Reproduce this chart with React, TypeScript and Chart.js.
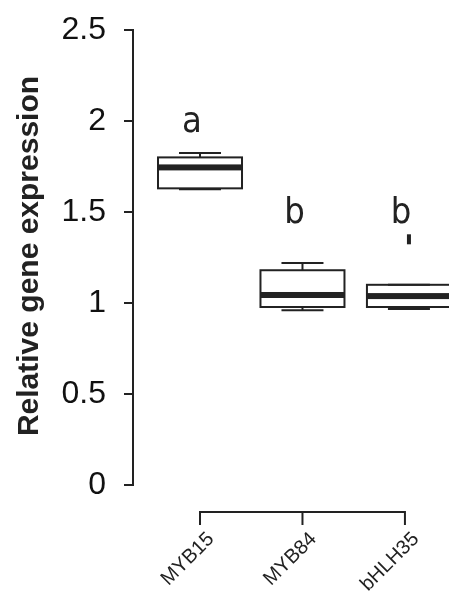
import { useEffect, useRef } from "react";
import { Chart, registerables } from "chart.js";

Chart.register(...registerables);

const genes = ["MYB15", "MYB84", "bHLH35"];
const whiskerLow = [1.625, 0.96, 0.967];
const q1 = [1.63, 0.978, 0.978];
const median = [1.745, 1.044, 1.038];
const q3 = [1.80, 1.18, 1.10];
const whiskerHigh = [1.824, 1.22, 1.10];
const outliers = [[], [], [1.35]] as number[][];
const letters = ["a", "b", "b"];
const letterAt = [1.99, 1.49, 1.49];
const yTicks = [0, 0.5, 1, 1.5, 2, 2.5];

const boxPlugin = {
  id: "boxes",
  afterDatasetsDraw(chart: Chart) {
    const { ctx } = chart;
    const x = chart.scales.x;
    const y = chart.scales.y;
    const halfW = 42;
    const capW = 21;
    ctx.save();
    ctx.strokeStyle = "#222";
    ctx.fillStyle = "#222";
    genes.forEach((g, i) => {
      const cx = x.getPixelForValue(i) + (i === 2 ? 4 : 0);
      const top = y.getPixelForValue(q3[i]);
      const bot = y.getPixelForValue(q1[i]);
      ctx.lineWidth = 2;
      ctx.beginPath();
      ctx.moveTo(cx, y.getPixelForValue(whiskerHigh[i]));
      ctx.lineTo(cx, top);
      ctx.moveTo(cx - capW, y.getPixelForValue(whiskerHigh[i]));
      ctx.lineTo(cx + capW, y.getPixelForValue(whiskerHigh[i]));
      ctx.moveTo(cx, y.getPixelForValue(whiskerLow[i]));
      ctx.lineTo(cx, bot);
      ctx.moveTo(cx - capW, y.getPixelForValue(whiskerLow[i]));
      ctx.lineTo(cx + capW, y.getPixelForValue(whiskerLow[i]));
      ctx.stroke();
      ctx.strokeRect(cx - halfW, top, halfW * 2, bot - top);
      const my = y.getPixelForValue(median[i]);
      ctx.fillRect(cx - halfW, my - 3, halfW * 2, 6);
      outliers[i].forEach((o) => {
        const oy = y.getPixelForValue(o);
        ctx.fillRect(cx - 2, oy - 5, 4, 10);
      });
      ctx.font = "36px 'DejaVu Sans Condensed', sans-serif";
      ctx.textAlign = "center";
      ctx.textBaseline = "middle";
      ctx.fillText(letters[i], cx - 8, y.getPixelForValue(letterAt[i]));
    });
    // category axis
    const ay = 512;
    ctx.lineWidth = 2;
    ctx.beginPath();
    ctx.moveTo(x.getPixelForValue(0), ay);
    ctx.lineTo(x.getPixelForValue(2), ay);
    genes.forEach((_, i) => {
      const tx = x.getPixelForValue(i);
      ctx.moveTo(tx, ay - 1);
      ctx.lineTo(tx, ay + 13);
    });
    ctx.stroke();
    ctx.font = "20px 'Liberation Sans', Arial, sans-serif";
    ctx.textAlign = "right";
    ctx.textBaseline = "middle";
    genes.forEach((g, i) => {
      ctx.save();
      ctx.translate(x.getPixelForValue(i) + 11, 536);
      ctx.rotate(-Math.PI / 4);
      ctx.fillText(g, 0, 0);
      ctx.restore();
    });
    // y title
    ctx.save();
    ctx.translate(30, 256);
    ctx.rotate(-Math.PI / 2);
    ctx.textAlign = "center";
    ctx.textBaseline = "middle";
    ctx.font = "bold 30px 'Liberation Sans', Arial, sans-serif";
    ctx.fillText("Relative gene expression", 0, 0);
    ctx.restore();
    ctx.restore();
  },
};

export default function App() {
  const canvasRef = useRef<HTMLCanvasElement>(null);

  useEffect(() => {
    document.body.style.margin = "0";
    if (!canvasRef.current) return;
    const chart = new Chart(canvasRef.current, {
      type: "scatter",
      data: { datasets: [{ data: [], pointRadius: 0 }] },
      options: {
        animation: false,
        responsive: false,
        layout: { padding: { top: 30, bottom: 121, right: 0, left: 0 } },
        plugins: { legend: { display: false }, tooltip: { enabled: false } },
        scales: {
          x: {
            type: "linear",
            min: -0.654,
            max: 2.43,
            display: false,
          },
          y: {
            min: 0,
            max: 2.5,
            afterFit: (s: any) => {
              s.width = 133;
            },
            afterBuildTicks: (s: any) => {
              s.ticks = yTicks.map((v) => ({ value: v }));
            },
            grid: { drawOnChartArea: false, tickLength: 9, color: "#222", lineWidth: 2 },
            border: { color: "#222", width: 2 },
            ticks: {
              color: "#111",
              padding: 18,
              font: { size: 32, lineHeight: 0.5, family: "'Liberation Sans', Arial, sans-serif" },
              callback: (v: any) => String(v),
            },
          },
        },
      },
      plugins: [boxPlugin],
    });
    return () => chart.destroy();
  }, []);

  return <canvas ref={canvasRef} width={449} height={606} style={{ display: "block" }} />;
}
